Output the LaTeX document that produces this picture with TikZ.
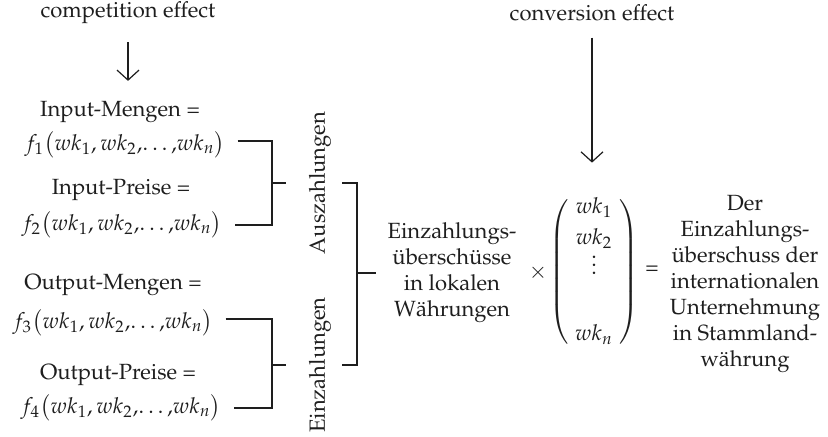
\documentclass[tikz,border=0pt]{standalone}
\usepackage[T1]{fontenc}
\usepackage{mathpazo}
\usepackage{amsmath}
\usetikzlibrary{positioning, arrows.meta, calc}
\definecolor{clrink}{HTML}{1E1E1E}

\begin{document}
\begin{tikzpicture}[
    x=0.5pt, y=-0.5pt,
    every node/.style={font=\fontsize{11}{13}\selectfont, text=clrink, inner sep=1pt},
    effect/.style={},
    qty/.style={},
    fn/.style={},
    vlabel/.style={rotate=90},
    sumtext/.style={align=center},
    arrow/.style={-{Straight Barb[length=5pt, width=11pt]}, color=clrink, line width=0.6pt},
    bracket/.style={color=clrink, line width=0.8pt},
]
\useasboundingbox (0,0) rectangle (828,436);
% effects
\node[effect] (comp) at (128,13) {competition effect};
\node[effect] (conv) at (592,13) {conversion effect};
% left column
\node[qty] (inM) at (120,112) {Input-Mengen =};
\node[fn] (inMf) at (125,145) {$f_1\bigl(wk_1, wk_2,\!\ldots,\!wk_n\bigr)$};
\node[qty] (inP) at (121,190) {Input-Preise =};
\node[fn] (inPf) at (122,225) {$f_2\bigl(wk_1, wk_2,\!\ldots,\!wk_n\bigr)$};
\node[qty] (outM) at (113,285) {Output-Mengen =};
\node[fn] (outMf) at (113,323) {$f_3\bigl(wk_1, wk_2,\!\ldots,\!wk_n\bigr)$};
\node[qty] (outP) at (118,375) {Output-Preise =};
\node[fn] (outPf) at (121,408) {$f_4\bigl(wk_1, wk_2,\!\ldots,\!wk_n\bigr)$};
% rotated group labels
\node[vlabel] (aus) at (320,183) {Auszahlungen};
\node[vlabel] (ein) at (320,365) {Einzahlungen};
% right part
\node[sumtext] (local) at (452,273) {Einzahlungs-\\\"ubersch\"usse\\in lokalen\\W\"ahrungen};
\node (times) at (538,273) {$\times$};
\node (vec) at (594,272) {\renewcommand{\arraystretch}{0.8}$\left(\begin{array}{@{\hspace{3pt}}c@{\hspace{3pt}}} wk_1\\[4.6pt] wk_2\\[4.6pt] \smash{\vdots}\\[22pt] wk_n\end{array}\right)$};
\node (eq) at (652,270) {=};
\node[sumtext] (result) at (745,284) {Der\\Einzahlungs-\\\"uberschuss der\\internationalen\\Unternehmung\\in Stammland-\\w\"ahrung};
% arrows
\draw[arrow, shorten <=8pt, shorten >=9pt] (comp.south) -- (comp.south |- inM.north);
\draw[arrow, shorten <=7pt, shorten >=16pt] (conv.south) -- (conv.south |- vec.north);
% brackets
\coordinate (in_spine) at (272,0);
\coordinate (out_spine) at (272,0);
\coordinate (sum_spine) at (357,0);
\draw[bracket] ([xshift=5pt, yshift=2pt]inMf.east) -| (in_spine |- inPf.east) -- ([xshift=5pt]inPf.east);
\draw[bracket] (in_spine |- aus.north) -- ([xshift=-10.5pt]aus.north);
\draw[bracket] ([xshift=5pt, yshift=2pt]outMf.east) -| (out_spine |- outPf.east) -- ([xshift=5pt]outPf.east);
\draw[bracket] (out_spine |- ein.north) -- ([xshift=-10.5pt]ein.north);
\draw[bracket] ([xshift=4.5pt]aus.south) -| (sum_spine |- ein.south) -- ([xshift=4.5pt]ein.south);
\draw[bracket] (sum_spine |- local.west) -- ([xshift=-4.5pt]local.west);
\end{tikzpicture}
\end{document}
